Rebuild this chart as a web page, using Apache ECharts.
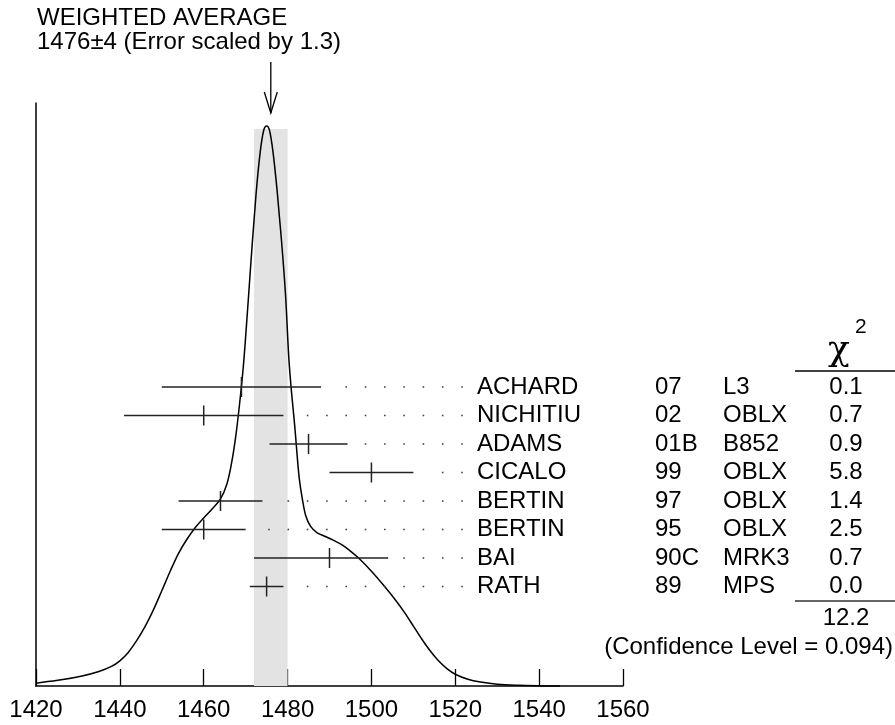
<!DOCTYPE html>
<html><head><meta charset="utf-8">
<script src="https://cdn.jsdelivr.net/npm/echarts@6/dist/echarts.min.js"></script>
<style>html,body{margin:0;padding:0;background:#fff}#c{width:895px;height:725px}</style>
</head><body><div id="c"></div>
<script>
// ---- data ----
const names = ['ACHARD','NICHITIU','ADAMS','CICALO','BERTIN','BERTIN','BAI','RATH'];
const years = ['07','02','01B','99','97','95','90C','89'];
const experiments = ['L3','OBLX','B852','OBLX','OBLX','OBLX','MRK3','MPS'];
const values = [1469,1460,1485,1500,1464,1460,1490,1475];
const errLow = [19,19,9.3,10,10,10,18,4];
const errHigh = [19,19,9.3,10,10,10,14,4];
const chi2 = ['0.1','0.7','0.9','5.8','1.4','2.5','0.7','0.0'];
const chi2Total = '12.2';
const confidenceLevel = '0.094';
const average = 1476, averageError = 4, errorScale = 1.3;
// ideogram curve (relative height, peak = 1)
const curveX = [1420,1426,1431,1435,1438,1440,1442,1444,1446,1448,1450,1452,1454,1456,1458,1460,1462,1464,1465.5,1466.5,1467.5,1468.5,1469.5,1470.5,1471.5,1472.5,1473.5,1474.3,1475,1475.7,1476.5,1477.5,1478.5,1479.5,1480.3,1481,1481.7,1482.3,1482.8,1483.5,1484.3,1485.5,1487,1489,1491,1493,1495,1497,1500,1503,1506,1508,1510,1512,1514,1516,1518,1520,1523,1526,1530,1535,1540,1545];
const curveY = [0.005,0.011,0.018,0.026,0.035,0.045,0.060,0.081,0.106,0.136,0.170,0.205,0.237,0.262,0.283,0.300,0.316,0.334,0.360,0.392,0.438,0.500,0.575,0.676,0.782,0.880,0.955,0.992,1.0,0.992,0.955,0.885,0.800,0.700,0.585,0.520,0.465,0.410,0.370,0.335,0.305,0.285,0.274,0.267,0.260,0.252,0.241,0.228,0.205,0.179,0.151,0.130,0.107,0.084,0.063,0.045,0.031,0.021,0.012,0.007,0.003,0.0012,0.0004,0];
const xMin = 1420, xMax = 1560, xStep = 20;

// ---- layout ----
const FONT = '"Liberation Sans", Arial, Helvetica, sans-serif';
const FS = 24;
const NAME_X = 477, YEAR_X = 655, EXP_X = 723, CHI_X = 846;
const DOT_END = 462, DOT_STEP = 19.3;
const ROW_H = 28.5;

const chart = echarts.init(document.getElementById('c'), null, {renderer: 'canvas'});
const rowsData = names.map((n, i) => [i, values[i], errLow[i], errHigh[i]]);
const peak = Math.max(...curveY);

function txt(x, y, text, opt) {
  return {type: 'text', x: x, y: y, style: Object.assign({text: text, fill: '#000', fontSize: FS, fontFamily: FONT, textAlign: 'left', textVerticalAlign: 'middle'}, opt || {})};
}

// smooth curve through the read points (Catmull-Rom -> cubic Bezier), positioned by the axes
function renderCurve(params, api) {
  const P = curveX.map((x, i) => api.coord([x, curveY[i]]));
  const n = P.length;
  let d = 'M' + P[0][0] + ' ' + P[0][1];
  for (let i = 0; i < n - 1; i++) {
    const p0 = P[Math.max(i - 1, 0)], p1 = P[i], p2 = P[i + 1], p3 = P[Math.min(i + 2, n - 1)];
    const t = 1 / 6;
    const c1 = [p1[0] + (p2[0] - p0[0]) * t, p1[1] + (p2[1] - p0[1]) * t];
    const c2 = [p2[0] - (p3[0] - p1[0]) * t, p2[1] - (p3[1] - p1[1]) * t];
    d += ' C' + c1[0] + ' ' + c1[1] + ' ' + c2[0] + ' ' + c2[1] + ' ' + p2[0] + ' ' + p2[1];
  }
  return {type: 'path', shape: {pathData: d}, style: {stroke: '#000', lineWidth: 1.5, fill: null}};
}

function renderRow(params, api) {
  const i = api.value(0), v = api.value(1), lo = api.value(2), hi = api.value(3);
  const c = api.coord([v, i]);
  const l = api.coord([v - lo, i]);
  const r = api.coord([v + hi, i]);
  const y = c[1];
  const ch = [
    {type: 'line', shape: {x1: l[0], y1: y, x2: r[0], y2: y}, style: {stroke: '#222', lineWidth: 1.5}},
    {type: 'line', shape: {x1: c[0], y1: y - 10, x2: c[0], y2: y + 10}, style: {stroke: '#222', lineWidth: 1.5}}
  ];
  for (let px = DOT_END; px > r[0] + 12; px -= DOT_STEP) {
    ch.push({type: 'rect', shape: {x: px - 0.8, y: y - 0.8, width: 1.6, height: 1.6}, style: {fill: '#444'}});
  }
  ch.push(txt(NAME_X, y, names[i]));
  ch.push(txt(YEAR_X, y, years[i]));
  ch.push(txt(EXP_X, y, experiments[i]));
  ch.push(txt(CHI_X, y, chi2[i], {textAlign: 'center'}));
  return {type: 'group', children: ch};
}

function renderBand(params, api) {
  const a = api.coord([api.value(0), peak]);
  const b = api.coord([api.value(1), 0]);
  return {type: 'rect', shape: {x: a[0], y: a[1] + 3, width: b[0] - a[0], height: b[1] - a[1] - 3}, style: {fill: '#e3e3e3'}};
}

function renderArrow(params, api) {
  const c = api.coord([api.value(0), 0]);
  const top = params.coordSys.y;
  const x = c[0], tip = top + 10, tail = top - 41;
  return {type: 'group', children: [
    {type: 'line', shape: {x1: x, y1: tail, x2: x, y2: tip}, style: {stroke: '#000', lineWidth: 1.3}},
    {type: 'polyline', shape: {points: [[x - 6.5, tip - 21], [x, tip], [x + 6.5, tip - 21]]}, style: {stroke: '#000', lineWidth: 1.3, fill: null}}
  ]};
}

const firstRowY = 387;
const option = {
  animation: false,
  backgroundColor: '#fff',
  grid: [
    {left: 36, right: 272, top: 103, bottom: 39},
    {left: 36, right: 272, top: firstRowY - ROW_H / 2, height: ROW_H * names.length}
  ],
  xAxis: [
    {gridIndex: 0, type: 'value', min: xMin, max: xMax, interval: xStep,
     axisLine: {show: true, lineStyle: {color: '#000', width: 1.5}},
     axisTick: {show: true, inside: true, length: 17, lineStyle: {color: '#000', width: 1.3}},
     axisLabel: {color: '#000', fontSize: FS, fontFamily: FONT, margin: 12, formatter: v => String(v)},
     splitLine: {show: false}},
    {gridIndex: 1, type: 'value', min: xMin, max: xMax, show: false}
  ],
  yAxis: [
    {gridIndex: 0, type: 'value', min: 0, max: 583 / 560,
     axisLine: {show: true, lineStyle: {color: '#000', width: 1.5}},
     axisTick: {show: false}, axisLabel: {show: false}, splitLine: {show: false}},
    {gridIndex: 1, type: 'value', min: -0.5, max: names.length - 0.5, inverse: true, show: false}
  ],
  series: [
    {type: 'custom', xAxisIndex: 0, yAxisIndex: 0, z: 1, renderItem: renderBand, data: [[average - averageError, average + averageError]], silent: true},
    {type: 'custom', xAxisIndex: 0, yAxisIndex: 0, z: 3, clip: false, renderItem: renderCurve, data: [[curveX[0], curveY[0]]], silent: true},
    {type: 'custom', xAxisIndex: 0, yAxisIndex: 0, z: 3, clip: false, renderItem: renderArrow, data: [[average]], silent: true},
    {type: 'custom', xAxisIndex: 1, yAxisIndex: 1, z: 4, clip: false, renderItem: renderRow, data: rowsData, silent: true}
  ],
  graphic: [
    txt(37, 18, 'WEIGHTED AVERAGE'),
    txt(37, 42, average + '\u00b1' + averageError + ' (Error scaled by ' + errorScale + ')'),
    {type: 'text', x: 828, y: 369, style: {text: '\u03c7', fill: '#000', fontSize: 36, fontFamily: '"DejaVu Serif", "Liberation Serif", serif', textAlign: 'left', textVerticalAlign: 'bottom'}},
    {type: 'text', x: 855, y: 327, style: {text: '2', fill: '#000', fontSize: 21, fontFamily: FONT, textAlign: 'left', textVerticalAlign: 'middle'}},
    {type: 'line', shape: {x1: 795, y1: 371, x2: 895, y2: 371}, style: {stroke: '#000', lineWidth: 1.3}},
    {type: 'line', shape: {x1: 795, y1: 601, x2: 895, y2: 601}, style: {stroke: '#333', lineWidth: 1.5}},
    txt(CHI_X, 618, chi2Total, {textAlign: 'center'}),
    txt(893, 647, '(Confidence Level = ' + confidenceLevel + ')', {textAlign: 'right'})
  ]
};
chart.setOption(option);
</script></body></html>
